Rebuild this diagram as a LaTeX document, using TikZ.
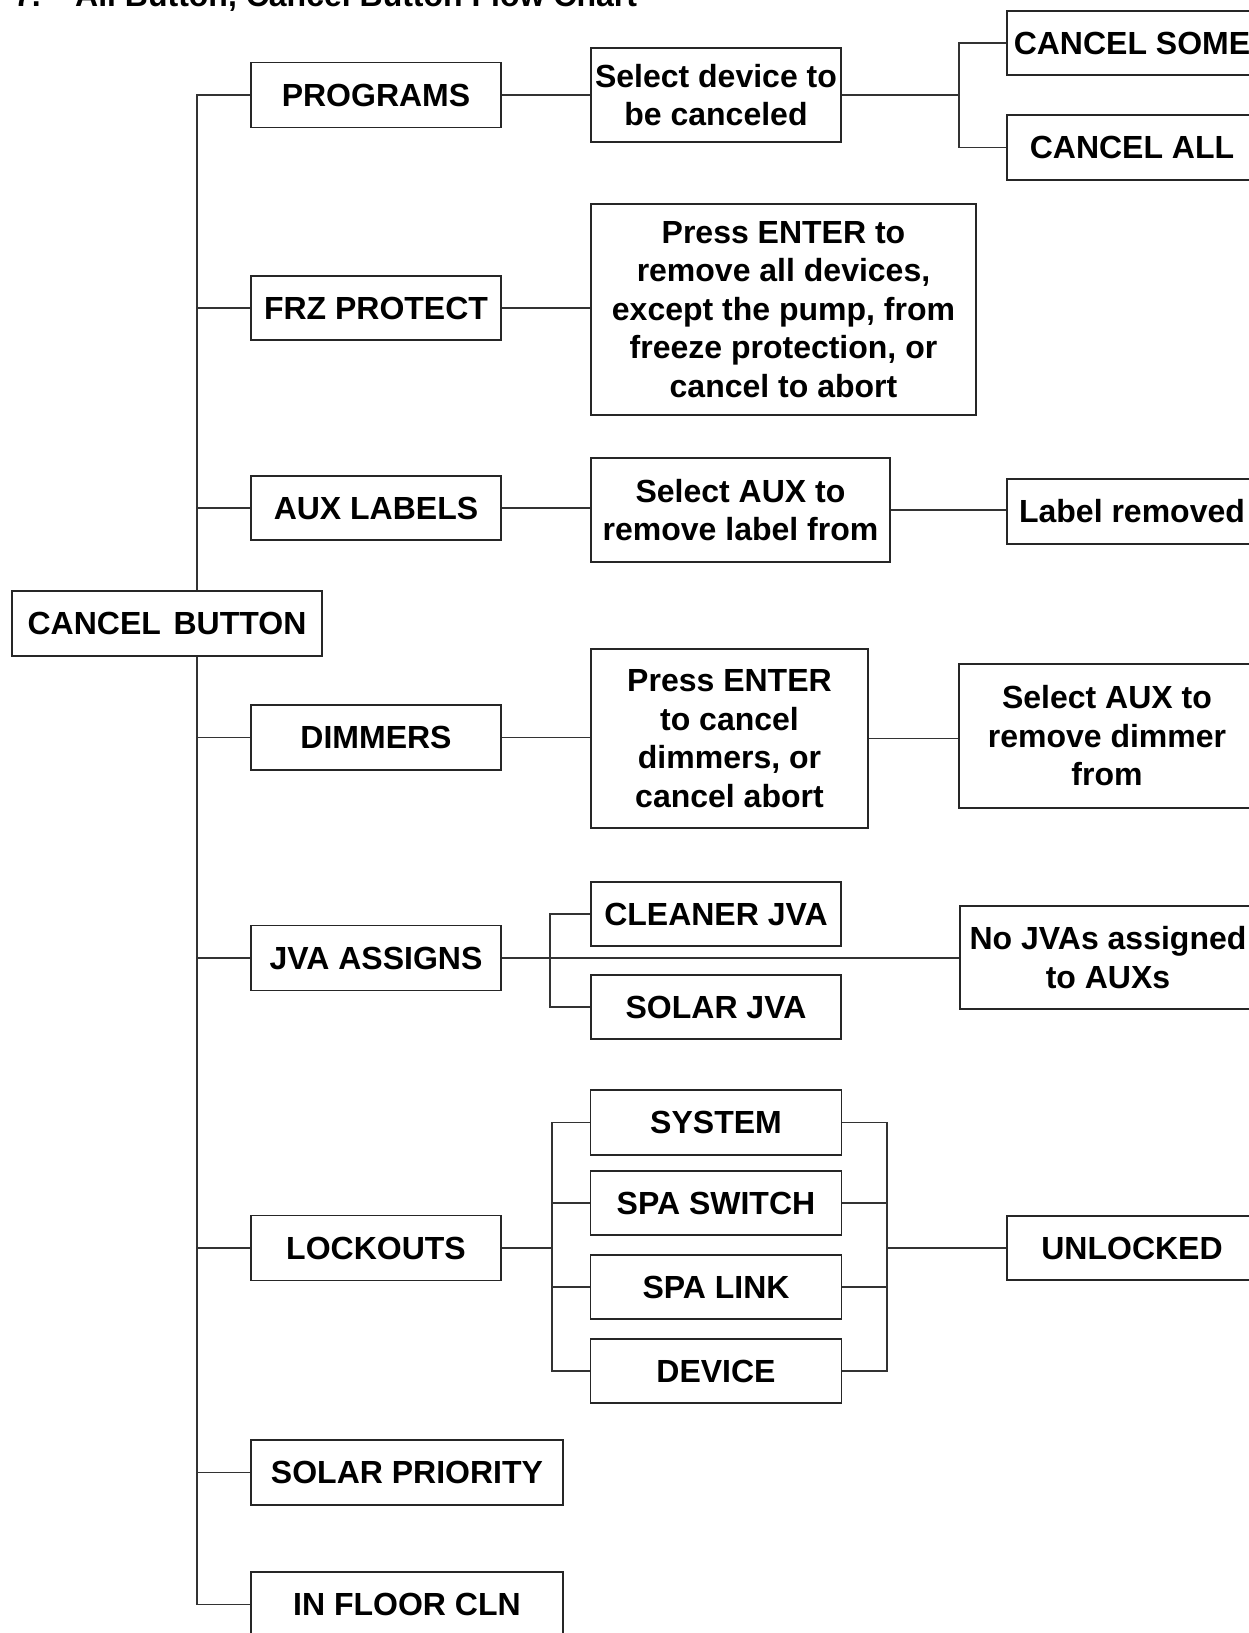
\documentclass[tikz,border=0pt]{standalone}
\usepackage{fontspec}
\setmainfont{Liberation Sans}
\begin{document}
\begin{tikzpicture}[x=1pt,y=-1pt,
  box/.style={draw=black!85, line width=1.6pt, fill=white, inner sep=0pt, align=center,
    font=\fontsize{32}{38.5}\selectfont\bfseries},
  link/.style={draw=black!80, line width=1.3pt},
  ttl/.style={anchor=base west, inner sep=0pt, font=\fontsize{32}{38}\selectfont\bfseries}]
\useasboundingbox (0,0) rectangle (1249,1633);
% title (cut off at top)
\node[ttl] (tnum) at (14,6.5) {7.};
\node[ttl] (title) at (75,6.5) {All Button, Cancel Button Flow Chart};
% column 0/1
\node[box, minimum width=310pt, minimum height=65pt] (cb) at (167,623.5) {CANCEL\hspace{0.12em} BUTTON};
\node[box, minimum width=250pt, minimum height=65pt] (prog) at (376,95) {PROGRAMS};
\node[box, minimum width=250pt, minimum height=64pt] (frz) at (376,308) {FRZ PROTECT};
\node[box, minimum width=250pt, minimum height=64pt] (aux) at (376,508) {AUX LABELS};
\node[box, minimum width=250pt, minimum height=65pt] (dim) at (376,737.5) {DIMMERS};
\node[box, minimum width=250pt, minimum height=65pt] (jva) at (376,958) {JVA ASSIGNS};
\node[box, minimum width=250pt, minimum height=65pt] (lock) at (376,1248) {LOCKOUTS};
\node[box, minimum width=312pt, minimum height=65pt] (solp) at (407,1472.5) {SOLAR PRIORITY};
\node[box, minimum width=312pt, minimum height=65pt] (infl) at (407,1604.5) {IN FLOOR CLN};
% column 2
\node[box, minimum width=250pt, minimum height=94pt] (seldev) at (716,95) {Select device to\\be canceled};
\node[box, minimum width=385pt, minimum height=211pt] (press) at (783.5,309.5)
  {Press ENTER to\\remove all devices,\\except the pump, from\\freeze protection, or\\cancel to abort};
\node[box, minimum width=299pt, minimum height=104pt] (selaux) at (740.5,510) {Select AUX to\\remove label from};
\node[box, minimum width=277pt, minimum height=179pt] (pressdim) at (729.5,738.5)
  {Press ENTER\\to cancel\\dimmers, or\\cancel abort};
\node[box, minimum width=250pt, minimum height=64pt] (cleaner) at (716,914) {CLEANER JVA};
\node[box, minimum width=250pt, minimum height=64pt] (solarjva) at (716,1007) {SOLAR JVA};
\node[box, minimum width=251pt, minimum height=65pt] (system) at (716,1122.5) {SYSTEM};
\node[box, minimum width=251pt, minimum height=64pt] (spasw) at (716,1203) {SPA SWITCH};
\node[box, minimum width=251pt, minimum height=64pt] (spalink) at (716,1287) {SPA LINK};
\node[box, minimum width=251pt, minimum height=64pt] (device) at (716,1371) {DEVICE};
% column 3
\node[box, minimum width=250pt, minimum height=64pt] (csome) at (1132,43) {CANCEL SOME};
\node[box, minimum width=250pt, minimum height=65pt] (call) at (1132,147.5) {CANCEL ALL};
\node[box, minimum width=250pt, minimum height=65pt] (labrem) at (1132,511.5) {Label removed};
\node[box, minimum width=296pt, minimum height=144pt] (seldim) at (1107,736) {Select AUX to\\remove dimmer\\from};
\node[box, minimum width=296pt, minimum height=103pt] (nojva) at (1108,957.5) {No JVAs assigned\\to AUXs};
\node[box, minimum width=250pt, minimum height=64pt] (unlocked) at (1132,1248) {UNLOCKED};
% trunk
\coordinate (tx) at (197,0);
\foreach \n in {prog,frz,aux} \draw[link] (cb.north -| tx) |- (\n.west);
\foreach \n in {dim,jva,lock,solp,infl} \draw[link] (cb.south -| tx) |- (\n.west);
% programs branch
\draw[link] (prog.east) -- (prog.east -| seldev.west);
\coordinate (j1) at (959,95);
\draw[link] (seldev.east) -- (j1);
\draw[link] (j1) |- (csome.west);
\draw[link] (j1) |- (call.west);
% frz
\draw[link] (frz.east) -- (frz.east -| press.west);
% aux labels
\draw[link] (aux.east) -- (aux.east -| selaux.west);
\draw[link] (selaux.east) -- (selaux.east -| labrem.west);
% dimmers
\draw[link] (dim.east) -- (dim.east -| pressdim.west);
\draw[link] (pressdim.east) -- (pressdim.east -| seldim.west);
% jva
\draw[link] (jva.east) -- (jva.east -| nojva.west);
\coordinate (j2) at (550,958);
\draw[link] (j2) |- (cleaner.west);
\draw[link] (j2) |- (solarjva.west);
% lockouts
\coordinate (j3) at (552,1248);
\coordinate (j4) at (887,1248);
\draw[link] (lock.east) -- (j3);
\foreach \n in {system,spasw,spalink,device} {
  \draw[link] (j3) |- (\n.west);
  \draw[link] (\n.east) -| (j4);
}
\draw[link] (j4) -- (unlocked.west);
\end{tikzpicture}
\end{document}
